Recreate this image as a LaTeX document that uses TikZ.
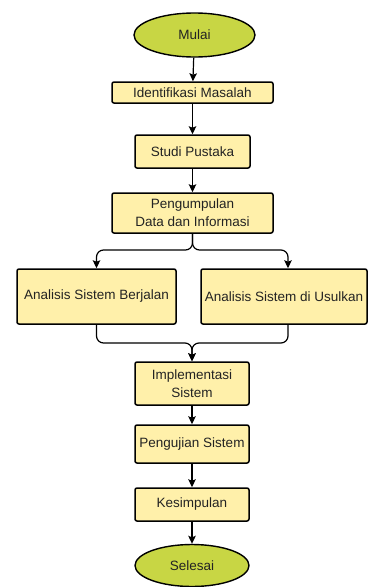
\documentclass[tikz,border=0pt]{standalone}
\usepackage{fontspec}
\setsansfont{Liberation Sans}
\usepackage{xcolor}
\usetikzlibrary{positioning, shapes.geometric, arrows.meta, calc}

\definecolor{boxfill}{RGB}{255,240,170}
\definecolor{endfill}{RGB}{200,214,68}
\definecolor{inkgray}{RGB}{35,35,35}

\begin{document}
\begin{tikzpicture}[
  x=1pt, y=-1pt,
  >={Stealth[length=8pt, width=7.5pt, inset=1.5pt]},
  every node/.style={font=\sffamily\fontsize{13.5}{18}\selectfont, text=inkgray},
  terminal/.style={draw, ellipse, fill=endfill, line width=1.4pt,
                   minimum width=116pt, minimum height=42pt, inner sep=0pt},
  process/.style={draw, rounded corners=2pt, fill=boxfill, line width=1.5pt,
                  align=center, inner sep=0pt},
  flow/.style={->, line width=1.2pt}
]
\useasboundingbox (0,0) rectangle (369,587);

% ---- START ----
\node[terminal, minimum width=121pt, minimum height=44pt] (mulai) at (194.5,35) {Mulai};

% ---- MAIN STEPS ----
\node[process, minimum width=161pt, minimum height=21pt] (ident) at (192.5,92.5)
  {Identifikasi Masalah};
\node[process, minimum width=115pt, minimum height=33pt] (studi) at (192.5,151.5)
  {Studi Pustaka};
\node[process, minimum width=161pt, minimum height=40pt] (kumpul) at (192.5,213)
  {Pengumpulan\\Data dan Informasi};

% ---- ANALYSIS (two branches) ----
\node[process, minimum width=159pt, minimum height=55pt] (berjalan) at (96.5,296.5)
  {Analisis Sistem Berjalan};
\node[process, minimum width=166pt, minimum height=55pt] (usulan) at (284,296.5)
  {Analisis Sistem di Usulkan};

% ---- LOWER STEPS ----
\node[process, minimum width=114pt, minimum height=43pt] (impl) at (192,383.5)
  {Implementasi\\Sistem};
\node[process, minimum width=114pt, minimum height=38pt] (uji) at (192,444)
  {Pengujian Sistem};
\node[process, minimum width=114pt, minimum height=33pt] (simpul) at (192,504.5)
  {Kesimpulan};

% ---- END ----
\node[terminal, minimum width=114pt] (selesai) at (192,565.5) {Selesai};

% ---- CONNECTORS ----
\coordinate (split) at (192.5,250);
\coordinate (join) at (192,343);

\draw[flow] (mulai) -- (ident);
\draw[flow] (ident) -- (studi);
\draw[flow] (studi) -- (kumpul);

\draw[flow, rounded corners=7pt] (kumpul.south) -- (split) -| (berjalan.north);
\draw[flow, rounded corners=7pt] (kumpul.south) -- (split) -| ([xshift=4pt]usulan.north);

\draw[flow, rounded corners=7pt] (berjalan.south) |- (join) -- (impl.north);
\draw[flow, rounded corners=7pt] ([xshift=4pt]usulan.south) |- (join) -- (impl.north);

\draw[flow] (impl) -- (uji);
\draw[flow] (uji) -- (simpul);
\draw[flow] (simpul) -- (selesai);

\end{tikzpicture}
\end{document}
